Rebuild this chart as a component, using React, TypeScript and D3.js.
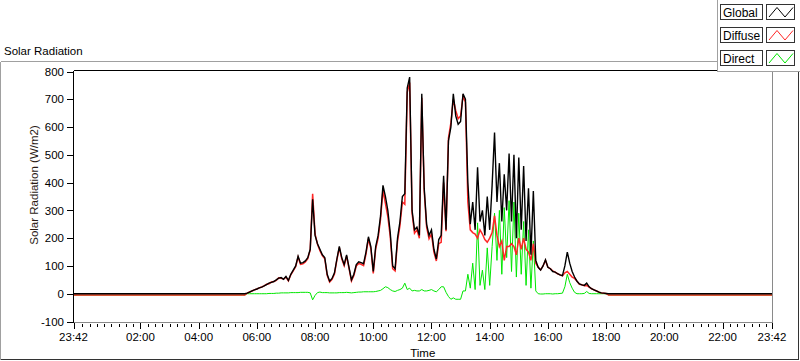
import React from 'react';
import * as d3 from 'd3';

// 5 minute samples from 05:30 to 18:10 (W/m2)
const dayStart = '05:30';
const stepMinutes = 5;

const globalW = [
  0, 0, 2, 6, 10, 14,
  17, 21, 24, 28, 33, 38, 41, 44, 50, 56, 58, 52,
  62, 48, 70, 85, 100, 135, 110, 112, 118, 130, 160, 340,
  210, 180, 160, 140, 130, 70, 45, 55, 75, 125, 170, 130,
  105, 140, 95, 50, 70, 105, 115, 112, 108, 150, 205, 170,
  80, 170, 210, 280, 390, 350, 300, 220, 100, 90, 200, 260,
  350, 360, 740, 780, 300, 230, 240, 210, 720, 380, 250, 210,
  230, 160, 125, 195, 210, 425, 230, 550, 600, 720, 640, 610,
  620, 720, 700, 400, 250, 330, 230, 455, 260, 300, 210, 350,
  230, 390, 580, 330, 470, 260, 430, 300, 505, 260, 500, 200,
  490, 230, 460, 190, 380, 140, 370, 120, 95, 85, 100, 122,
  95, 90, 80, 78, 72, 68, 65, 100, 150, 110, 80, 60,
  45, 35, 32, 30, 38, 25, 18, 14, 10, 6, 3, 2,
  1, 0, 0,
];

const diffuseW = [
  -5, -5, 2, 6, 10, 14,
  17, 21, 24, 28, 34, 36, 42, 44, 48, 57, 56, 53,
  60, 46, 68, 82, 97, 132, 106, 108, 114, 126, 158, 360,
  215, 178, 155, 137, 126, 66, 42, 52, 71, 122, 166, 126,
  101, 135, 91, 46, 66, 100, 109, 106, 101, 143, 198, 163,
  73, 162, 200, 268, 372, 325, 278, 205, 90, 82, 188, 245,
  330, 322, 725, 760, 290, 218, 230, 200, 705, 370, 240, 198,
  215, 150, 118, 180, 185, 400, 225, 560, 615, 700, 660, 630,
  640, 710, 690, 330, 230, 220, 215, 200, 230, 215, 195, 185,
  200, 220, 280, 210, 170, 190, 120, 170, 170, 180, 170, 140,
  200, 160, 200, 160, 150, 120, 180, 110, 95, 86, 100, 120,
  95, 90, 82, 78, 72, 68, 64, 75, 80, 70, 60, 55,
  45, 34, 32, 29, 30, 24, 18, 14, 10, 6, 3, 2,
  1, -5, -5,
];

const directW = [
  -5, -5, 0, 0, 0, 0,
  0, 0, 0, 0, 0, 1, 1, 1, 2, 2, 3, 3,
  3, 3, 4, 4, 4, 4, 5, 5, 5, 5, 3, -22,
  -6, 4, 6, 4, 4, 4, 3, 3, 3, 3, 4, 4,
  4, 5, 4, 3, 4, 5, 6, 6, 7, 7, 7, 7,
  7, 8, 10, 12, 18, 25, 22, 15, 10, 8, 12, 15,
  20, 38, 15, 20, 10, 12, 10, 10, 15, 10, 10, 12,
  15, 10, 7, 15, 25, 25, 5, -10, -20, -15, -20, -20,
  -20, 10, 10, 70, 20, 110, 15, 255, 30, 85, 15, 165,
  30, 170, 290, 120, 300, 70, 310, 130, 335, 80, 330, 60,
  290, 70, 260, 30, 230, 20, 190, 10, 0, -1, -1, 0,
  0, 0, -1, 0, 0, 1, 2, 25, 70, 40, 20, 5,
  0, 0, 0, 1, 8, 1, 0, 0, 0, 0, 0, 0,
  0, -5, -5,
];

// flat night-time readings (before sunrise / after sunset)
const nightGlobal = 0;
const nightDiffuse = -5;
const nightDirect = -5;

const xLabels = ['23:42', '02:00', '04:00', '06:00', '08:00', '10:00', '12:00', '14:00', '16:00', '18:00', '20:00', '22:00', '23:42'];
const yTicks = [-100, 0, 100, 200, 300, 400, 500, 600, 700, 800];

const series = [
  { name: 'Global', values: globalW, night: nightGlobal, color: '#000000', width: 1.4 },
  { name: 'Diffuse', values: diffuseW, night: nightDiffuse, color: '#ff2626', width: 1.5 },
  { name: 'Direct', values: directW, night: nightDirect, color: '#00e600', width: 1 },
];

const toMin = (s: string) => {
  const [h, m] = s.split(':').map(Number);
  return h * 60 + m;
};

const W = 800;
const H = 361;
const left = 73.5, right = 772, top = 70.5, bottom = 322.5;
const font = '"Liberation Sans", Arial, sans-serif';

export default function App() {
  const tStart = toMin(xLabels[0]) - 1440;
  const tEnd = toMin(xLabels[xLabels.length - 1]);
  const x = d3.scaleLinear().domain([tStart, tEnd]).range([left, right]);
  const y = d3.scaleLinear().domain([-100, 800]).range([321.5, 71.5]);

  const majorT = xLabels.map((l, i) => (i === 0 ? tStart : toMin(l)));
  const minorT = d3.range(0, tEnd, 15).filter((t) => !majorT.includes(t));

  const line = d3
    .line<[number, number]>()
    .x((d) => x(d[0]))
    .y((d) => y(d[1]));

  const d0 = toMin(dayStart);
  const pts = (s: typeof series[number]): [number, number][] => [
    [tStart, s.night],
    ...s.values.map((v, i) => [d0 + i * stepMinutes, v] as [number, number]),
    [tEnd, s.night],
  ];

  const drawOrder = [series[2], series[1], series[0]];

  return (
    <svg width={W} height={H} style={{ position: 'absolute', left: 0, top: 0, background: '#fff' }} fontFamily={font}>
      <defs>
        <clipPath id="plot">
          <rect x={left} y={top} width={right - left} height={bottom - top} />
        </clipPath>
      </defs>
      {/* outer panel frame */}
      <g shapeRendering="crispEdges">
        <line x1={0.5} y1={61.5} x2={718} y2={61.5} stroke="#a0a0a0" />
        <line x1={0.5} y1={61.5} x2={0.5} y2={359.5} stroke="#a0a0a0" />
        <line x1={0.5} y1={359.5} x2={799} y2={359.5} stroke="#333" />
        <line x1={798.5} y1={72} x2={798.5} y2={359.5} stroke="#333" />
      </g>
      <text x={4} y={55} fontSize={11.5} fill="#000">Solar Radiation</text>

      {/* plot lines */}
      <g clipPath="url(#plot)">
        {drawOrder.map((s) => (
          <path key={s.name} d={line(pts(s)) || ''} fill="none" stroke={s.color} strokeWidth={s.width} strokeLinejoin="miter" />
        ))}
      </g>

      {/* plot frame */}
      <g shapeRendering="crispEdges">
        <line x1={left} y1={top} x2={right} y2={top} stroke="#000" />
        <line x1={left} y1={top} x2={left} y2={bottom} stroke="#000" />
        <line x1={right} y1={top} x2={right} y2={bottom} stroke="#8a8a8a" />
        <line x1={left} y1={bottom} x2={right} y2={bottom} stroke="#8a8a8a" />
      </g>

      {/* y axis */}
      <g fontSize={11.5} fill="#000">
        {yTicks.map((v) => (
          <g key={v}>
            <line x1={67} x2={left} y1={Math.round(y(v)) + 0.5} y2={Math.round(y(v)) + 0.5} stroke="#000" shapeRendering="crispEdges" />
            <text x={64} y={y(v)} dy="0.36em" textAnchor="end">{v}</text>
          </g>
        ))}
      </g>
      <text transform="translate(38,185) rotate(-90)" textAnchor="middle" fontSize={11.5} fill="#2a1a14">Solar Radiation (W/m2)</text>

      {/* x axis */}
      <g shapeRendering="crispEdges" stroke="#000">
        {minorT.map((t) => (
          <line key={t} x1={Math.round(x(t)) + 0.5} x2={Math.round(x(t)) + 0.5} y1={bottom + 1} y2={bottom + 4.5} />
        ))}
        {majorT.map((t, i) => (
          <line key={'M' + i} x1={Math.round(x(t)) + 0.5} x2={Math.round(x(t)) + 0.5} y1={bottom} y2={bottom + 6} />
        ))}
      </g>
      <g fontSize={11.5} fill="#000" textAnchor="middle">
        {majorT.map((t, i) => (
          <text key={i} x={x(t)} y={340.5}>{xLabels[i]}</text>
        ))}
      </g>
      <text x={(left + right) / 2} y={357} fontSize={11.5} textAnchor="middle" fill="#000">Time</text>

      {/* legend */}
      <g>
        <rect x={717.5} y={-1} width={84} height={73} fill="#fff" />
        <g shapeRendering="crispEdges">
          <line x1={717.5} y1={0} x2={717.5} y2={72} stroke="#a0a0a0" />
          <line x1={717.5} y1={71.5} x2={800} y2={71.5} stroke="#a0a0a0" />
        </g>
        {series.map((s, i) => {
          const ty = 4.5 + i * 23;
          return (
            <g key={s.name}>
              <rect x={720.5} y={ty} width={42} height={15} fill="#fff" stroke="#333" shapeRendering="crispEdges" />
              <text x={723} y={ty + 12.5} fontSize={12} fill="#000">{s.name}</text>
              <rect x={766.5} y={ty} width={28} height={15} fill="#fff" stroke="#333" shapeRendering="crispEdges" />
              <polyline
                points={`769,${ty + 12.5} 777,${ty + 3} 785,${ty + 12.5} 793,${ty + 3}`}
                fill="none"
                stroke={s.color}
                strokeWidth={1}
              />
            </g>
          );
        })}
      </g>
    </svg>
  );
}
